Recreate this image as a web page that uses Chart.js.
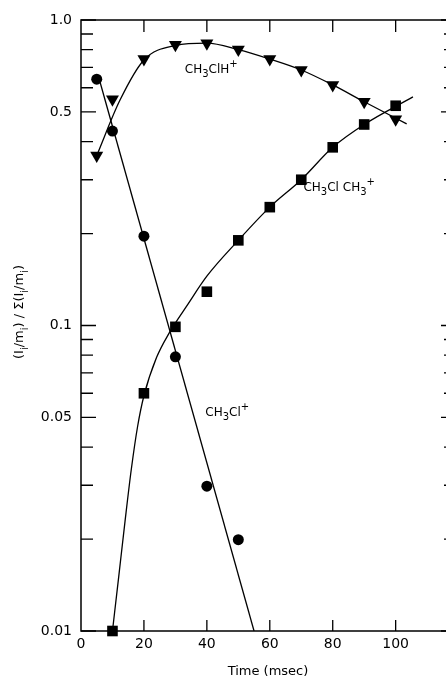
<!DOCTYPE html>
<html>
<head>
<meta charset="utf-8">
<script src="https://cdn.jsdelivr.net/npm/chart.js@4/dist/chart.umd.min.js"></script>
<style>
  body { margin: 0; background: #fff; }
  #wrap { width: 446px; height: 680px; position: relative; }
</style>
</head>
<body>
<div id="wrap"><canvas id="c"></canvas></div>
<script>
// measured points (time in msec, relative intensity)
const timeH = [5, 10, 20, 30, 40, 50, 60, 70, 80, 90, 100];
const ch3clh = [0.36, 0.55, 0.745, 0.83, 0.84, 0.80, 0.745, 0.686, 0.613, 0.54, 0.473];

const timeCl = [5, 10, 20, 30, 40, 50];
const ch3cl = [0.64, 0.433, 0.196, 0.079, 0.0298, 0.0199];

const timeDim = [10, 20, 30, 40, 50, 60, 70, 80, 90, 100];
const ch3clch3 = [0.01, 0.06, 0.099, 0.129, 0.19, 0.244, 0.30, 0.383, 0.455, 0.524];

// hand drawn curves through the points
const fitHX = [5, 12.4, 20, 30, 40, 50, 60, 70, 80, 90, 103.5];
const fitHY = [0.36, 0.547, 0.74, 0.825, 0.84, 0.80, 0.745, 0.686, 0.613, 0.54, 0.457];
const fitClX = [5.8, 55];
const fitClY = [0.64, 0.01];
const fitDimX = [10, 12, 14, 16, 18, 20, 24, 28, 34, 40, 50, 60, 70, 80, 90, 105.5];
const fitDimY = [0.01, 0.0151, 0.0229, 0.0339, 0.0468, 0.0589, 0.0785, 0.0944, 0.1175, 0.145, 0.19, 0.244, 0.30, 0.383, 0.455, 0.56];

const xTicks = [0, 20, 40, 60, 80, 100];
const yTicks = [0.01, 0.02, 0.03, 0.04, 0.05, 0.06, 0.07, 0.08, 0.09, 0.1, 0.2, 0.3, 0.4, 0.5, 0.6, 0.7, 0.8, 0.9, 1.0];
const yLabels = { 0.01: '0.01', 0.05: '0.05', 0.1: '0.1', 0.5: '0.5', 1: '1.0' };

function pts(xs, ys) {
  return xs.map((x, i) => ({ x: x, y: ys[i] }));
}

const FONT = '"DejaVu Sans", sans-serif';

// text with sub / superscripts: parts = [[text, kind], ...]
function richWidth(ctx, parts, size) {
  let w = 0;
  parts.forEach(p => {
    ctx.font = (p[1] === 'n' ? size : Math.round(size * 0.8)) + 'px ' + FONT;
    w += ctx.measureText(p[0]).width;
  });
  return w;
}
function drawRich(ctx, parts, x, y, size) {
  ctx.textAlign = 'left';
  ctx.textBaseline = 'middle';
  parts.forEach(p => {
    let dy = 0, s = size;
    if (p[1] === 'sub') { s = Math.round(size * 0.8); dy = size * 0.4; }
    if (p[1] === 'sup') { s = Math.round(size * 0.8); dy = -size * 0.45; }
    ctx.font = s + 'px ' + FONT;
    ctx.fillText(p[0], x, y + dy);
    x += ctx.measureText(p[0]).width;
  });
}

const labels = [
  { x: 33, y: 0.686, parts: [['CH', 'n'], ['3', 'sub'], ['ClH', 'n'], ['+', 'sup']] },
  { x: 70.7, y: 0.282, parts: [['CH', 'n'], ['3', 'sub'], ['Cl CH', 'n'], ['3', 'sub'], ['+', 'sup']] },
  { x: 39.5, y: 0.0517, parts: [['CH', 'n'], ['3', 'sub'], ['Cl', 'n'], ['+', 'sup']] }
];

const frame = {
  id: 'frame',
  afterDatasetsDraw(chart) {
    const ctx = chart.ctx;
    const a = chart.chartArea;
    const xs = chart.scales.x, ys = chart.scales.y;
    ctx.save();
    ctx.strokeStyle = '#000';
    ctx.fillStyle = '#000';
    ctx.lineWidth = 1.5;
    ctx.beginPath();
    ctx.moveTo(a.right, a.top); ctx.lineTo(a.left, a.top);
    ctx.lineTo(a.left, a.bottom); ctx.lineTo(a.right, a.bottom);
    ctx.stroke();

    ctx.lineWidth = 1.3;
    ctx.beginPath();
    yTicks.forEach(v => {
      const py = ys.getPixelForValue(v);
      const major = yLabels[v] !== undefined;
      ctx.moveTo(a.left, py); ctx.lineTo(a.left + (major ? 15 : 12), py);
      ctx.moveTo(a.right, py); ctx.lineTo(a.right - (major ? 5 : 2), py);
    });
    xTicks.forEach(v => {
      if (v === 0) return;
      const px = xs.getPixelForValue(v);
      ctx.moveTo(px, a.top); ctx.lineTo(px, a.top + 12);
      ctx.moveTo(px, a.bottom); ctx.lineTo(px, a.bottom - 11);
    });
    ctx.stroke();

    labels.forEach(l => {
      drawRich(ctx, l.parts, xs.getPixelForValue(l.x), ys.getPixelForValue(l.y), 12);
    });

    // axis titles
    ctx.font = '13px ' + FONT;
    ctx.textAlign = 'center';
    ctx.textBaseline = 'middle';
    ctx.fillText('Time (msec)', 268, 672);

    const yt = [['(I', 'n'], ['i', 'sub'], ['/m', 'n'], ['i', 'sub'], [') / \u03A3(I', 'n'], ['i', 'sub'], ['/m', 'n'], ['i', 'sub'], [')', 'n']];
    ctx.translate(20, 312);
    ctx.rotate(-Math.PI / 2);
    const w = richWidth(ctx, yt, 13);
    drawRich(ctx, yt, -w / 2, 0, 13);
    ctx.restore();
  }
};

const fitStyle = { showLine: true, pointRadius: 0, borderColor: '#000', borderWidth: 1.3, fill: false };

new Chart(document.getElementById('c'), {
  type: 'scatter',
  data: {
    datasets: [
      Object.assign({ label: 'fit CH3ClH+', data: pts(fitHX, fitHY), cubicInterpolationMode: 'monotone' }, fitStyle),
      Object.assign({ label: 'fit CH3Cl+', data: pts(fitClX, fitClY) }, fitStyle),
      Object.assign({ label: 'fit CH3ClCH3+', data: pts(fitDimX, fitDimY), cubicInterpolationMode: 'monotone' }, fitStyle),
      {
        label: 'CH3ClH+', data: pts(timeH, ch3clh),
        pointStyle: 'triangle', rotation: 180, pointRadius: 7.5,
        backgroundColor: '#000', borderColor: '#000', borderWidth: 0
      },
      {
        label: 'CH3Cl+', data: pts(timeCl, ch3cl),
        pointStyle: 'circle', pointRadius: 5.5,
        backgroundColor: '#000', borderColor: '#000', borderWidth: 0
      },
      {
        label: 'CH3ClCH3+', data: pts(timeDim, ch3clch3), clip: false,
        pointStyle: 'rect', pointRadius: 7.5,
        backgroundColor: '#000', borderColor: '#000', borderWidth: 0
      }
    ]
  },
  options: {
    responsive: true,
    maintainAspectRatio: false,
    animation: false,
    layout: { autoPadding: false, padding: { top: 20, right: 0, left: 0, bottom: 0 } },
    plugins: { legend: { display: false }, tooltip: { enabled: false } },
    scales: {
      x: {
        type: 'linear', min: 0, max: 116,
        afterFit: s => { s.height = 49; },
        afterBuildTicks: s => { s.ticks = xTicks.map(v => ({ value: v })); },
        grid: { display: false, drawTicks: false },
        border: { display: false },
        ticks: { color: '#000', font: { family: FONT, size: 14 }, padding: 5, maxRotation: 0 }
      },
      y: {
        type: 'logarithmic', min: 0.01, max: 1,
        afterFit: s => { s.width = 81; },
        afterBuildTicks: s => { s.ticks = yTicks.map(v => ({ value: v })); },
        grid: { display: false, drawTicks: false },
        border: { display: false },
        ticks: {
          color: '#000', font: { family: FONT, size: 14 }, padding: 9, autoSkip: false,
          callback: v => yLabels[v] || ''
        }
      }
    }
  },
  plugins: [frame]
});
</script>
</body>
</html>
